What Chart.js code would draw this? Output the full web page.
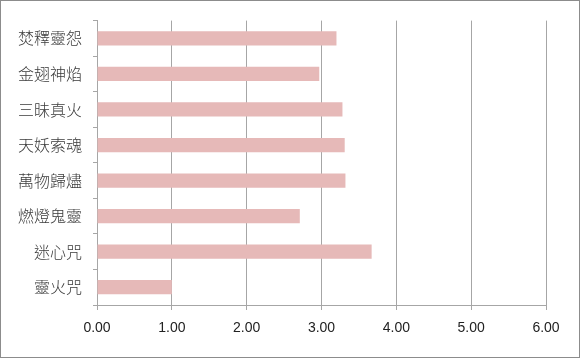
<!DOCTYPE html>
<html>
<head>
<meta charset="utf-8">
<script src="https://cdn.jsdelivr.net/npm/chart.js@4/dist/chart.umd.min.js"></script>
<style>
html,body{margin:0;padding:0;background:#fff;}
#wrap{width:580px;height:358px;position:relative;}
canvas{display:block;}
</style>
</head>
<body>
<div id="wrap"><canvas id="c" width="580" height="358"></canvas></div>
<script>
const categories = ["焚釋靈怨","金翅神焰","三昧真火","天妖索魂","萬物歸燼","燃燈鬼靈","迷心咒","靈火咒"];
const values = [3.20, 2.97, 3.28, 3.31, 3.32, 2.71, 3.67, 1.00];
const xTicks = [0,1,2,3,4,5,6];

const borderPlugin = {
  id: 'outerBorder',
  afterDraw(chart){
    const ctx = chart.ctx;
    ctx.save();
    ctx.strokeStyle = '#8c8c8c';
    ctx.lineWidth = 1;
    ctx.strokeRect(0.5, 0.5, chart.width-1, chart.height-1);
    ctx.restore();
  }
};

new Chart(document.getElementById('c'), {
  type: 'bar',
  data: {
    labels: categories,
    datasets: [{
      data: values,
      backgroundColor: '#e6b9b8',
      borderWidth: 0,
      barPercentage: 0.4,
      categoryPercentage: 1.0
    }]
  },
  options: {
    indexAxis: 'y',
    responsive: false,
    animation: false,
    devicePixelRatio: 1,
    layout: { padding: { top: 19, right: 34, left: 0, bottom: 0 } },
    plugins: { legend: { display: false }, tooltip: { enabled: false } },
    scales: {
      x: {
        min: 0, max: 6,
        afterBuildTicks(scale){ scale.ticks = xTicks.map(v => ({value: v})); },
        afterFit(scale){ scale.height = 53; },
        grid: { color: '#a6a6a6', lineWidth: 1, drawTicks: true, tickLength: 5, tickColor: '#a6a6a6' },
        border: { color: '#a6a6a6', width: 1 },
        ticks: {
          color: '#222',
          font: { family: 'Liberation Sans', size: 14 },
          padding: 10,
          callback: (v) => Number(v).toFixed(2)
        }
      },
      y: {
        afterFit(scale){ scale.width = 97; },
        grid: { drawOnChartArea: false, drawTicks: true, tickLength: 4, tickColor: '#a6a6a6', offset: true },
        border: { color: '#a6a6a6', width: 1 },
        ticks: {
          color: '#3a3a3a',
          font: { family: 'Noto Sans CJK TC', size: 16, weight: '300' },
          padding: 11
        }
      }
    }
  },
  plugins: [borderPlugin]
});
</script>
</body>
</html>
